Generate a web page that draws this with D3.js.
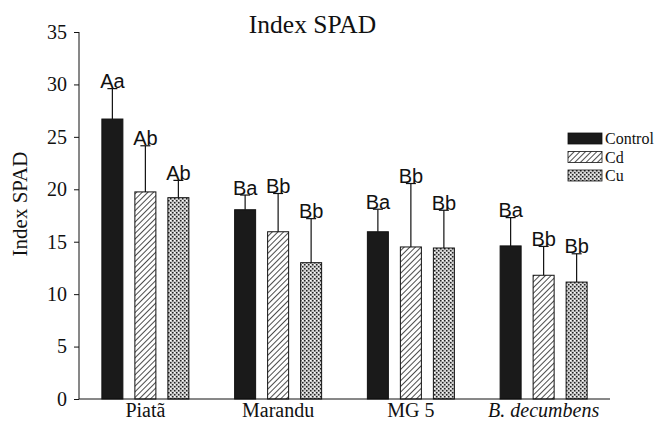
<!DOCTYPE html>
<html><head><meta charset="utf-8">
<script src="https://cdn.jsdelivr.net/npm/d3@7"></script>
<style>body{margin:0;background:#fff}svg{display:block}</style>
</head><body>
<script>
const categories = ["Piatã", "Marandu", "MG 5", "B. decumbens"];
const series = ["Control", "Cd", "Cu"];
const controlValues = [26.7, 18.05, 15.95, 14.6];
const cdValues = [19.75, 15.95, 14.5, 11.8];
const cuValues = [19.2, 13.0, 14.4, 11.15];
const controlErr = [2.9, 1.4, 2.15, 2.7];
const cdErr = [4.4, 3.65, 6.05, 2.75];
const cuErr = [1.65, 4.2, 3.6, 2.7];
const controlLabels = ["Aa", "Ba", "Ba", "Ba"];
const cdLabels = ["Ab", "Bb", "Bb", "Bb"];
const cuLabels = ["Ab", "Bb", "Bb", "Bb"];
const yTicks = [0, 5, 10, 15, 20, 25, 30, 35];

const W = 660, H = 421;
const svg = d3.select("body").append("svg").attr("width", W).attr("height", H);
const defs = svg.append("defs");
const ph = defs.append("pattern").attr("id", "hatch").attr("patternUnits", "userSpaceOnUse")
  .attr("width", 4).attr("height", 4).attr("patternTransform", "rotate(45)");
ph.append("rect").attr("width", 4).attr("height", 4).attr("fill", "#fff");
ph.append("line").attr("x1", 0).attr("y1", 0).attr("x2", 0).attr("y2", 4).attr("stroke", "#111").attr("stroke-width", 1.5);
const pc = defs.append("pattern").attr("id", "dots").attr("patternUnits", "userSpaceOnUse")
  .attr("width", 4).attr("height", 4);
pc.append("rect").attr("width", 4).attr("height", 4).attr("fill", "#cfcfcf");
pc.append("rect").attr("x", 0).attr("y", 0).attr("width", 1.5).attr("height", 1.5).attr("fill", "#222");
pc.append("rect").attr("x", 2).attr("y", 2).attr("width", 1.5).attr("height", 1.5).attr("fill", "#222");
pc.append("rect").attr("x", 2).attr("y", 0).attr("width", 1).attr("height", 1).attr("fill", "#fff");

const fills = ["#1a1a1a", "url(#hatch)", "url(#dots)"];
const values = [controlValues, cdValues, cuValues];
const errs = [controlErr, cdErr, cuErr];
const labels = [controlLabels, cdLabels, cuLabels];

const x0 = d3.scaleBand().domain(categories).range([79, 610]).paddingInner(0).paddingOuter(0);
const x1 = d3.scaleBand().domain(series).range([-43.5, 55.5]).paddingInner(12/33).paddingOuter(0);
const y = d3.scaleLinear().domain([0, 35]).range([399, 32]);

categories.forEach((c, i) => {
  const cx = x0(c) + x0.bandwidth() / 2;
  series.forEach((s, j) => {
    const v = values[j][i], e = errs[j][i];
    const bw = 21;
    const left = cx - 33 + j * 33 - bw / 2;
    svg.append("rect").attr("x", left).attr("y", y(v)).attr("width", bw).attr("height", y(0) - y(v))
      .attr("fill", fills[j]).attr("stroke", "#111").attr("stroke-width", 1);
    const mx = left + bw / 2;
    svg.append("line").attr("x1", mx).attr("x2", mx).attr("y1", y(v)).attr("y2", y(v + e)).attr("stroke", "#111").attr("stroke-width", 1.2);
    svg.append("line").attr("x1", mx - 5).attr("x2", mx + 5).attr("y1", y(v + e)).attr("y2", y(v + e)).attr("stroke", "#111").attr("stroke-width", 1.2);
    svg.append("text").attr("x", mx).attr("y", y(v + e) - 0.5).attr("text-anchor", "middle")
      .attr("font-family", "Liberation Sans, Arial, sans-serif").attr("font-size", 20).attr("fill", "#111")
      .text(labels[j][i]);
  });
});

const ya = svg.append("g").attr("transform", "translate(79,0)")
  .call(d3.axisLeft(y).tickValues(yTicks).tickSize(5).tickPadding(7).tickFormat(d3.format("d")));
ya.select(".domain").attr("d", `M0,${y(35)}V${y(0)}`).attr("stroke", "#111");
ya.selectAll(".tick line").attr("stroke", "#111");
ya.selectAll("text").attr("font-family", "Liberation Serif, Times New Roman, serif").attr("font-size", 20).attr("fill", "#111");

const xa = svg.append("g").attr("transform", "translate(0,399)")
  .call(d3.axisBottom(x0).tickSize(0).tickPadding(0));
xa.select(".domain").attr("d", "M79,0H610").attr("stroke", "#111");
xa.selectAll("text").attr("font-family", "Liberation Serif, Times New Roman, serif").attr("font-size", 20).attr("fill", "#111")
  .attr("font-style", d => d === "B. decumbens" ? "italic" : "normal").attr("y", 17.5).attr("dy", 0);

svg.append("text").attr("x", 312.5).attr("y", 33).attr("text-anchor", "middle")
  .attr("font-family", "Liberation Serif, Times New Roman, serif").attr("font-size", 25.5).attr("fill", "#111").text("Index SPAD");
svg.append("text").attr("transform", "translate(27,204) rotate(-90)").attr("text-anchor", "middle")
  .attr("font-family", "Liberation Serif, Times New Roman, serif").attr("font-size", 21).attr("fill", "#111").text("Index SPAD");

const lg = svg.append("g").attr("transform", "translate(568,133)");
series.forEach((s, j) => {
  const g = lg.append("g").attr("transform", `translate(0,${j * 18.5})`);
  g.append("rect").attr("width", 34).attr("height", 11).attr("fill", fills[j]).attr("stroke", "#111").attr("stroke-width", 0.8);
  g.append("text").attr("x", 37).attr("y", 11).attr("font-family", "Liberation Serif, Times New Roman, serif")
    .attr("font-size", 16).attr("fill", "#111").text(s);
});
</script>
</body></html>
